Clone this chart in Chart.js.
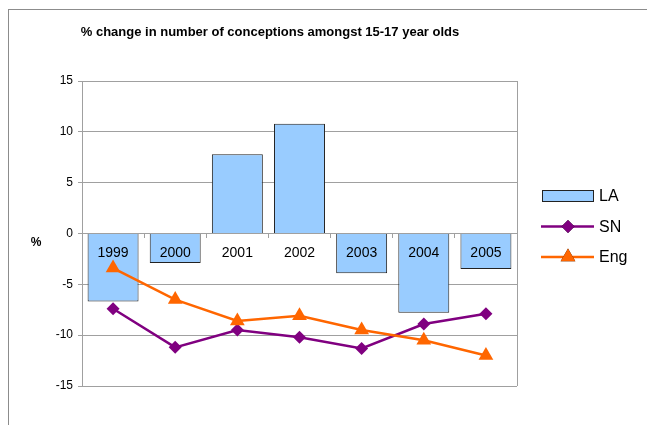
<!DOCTYPE html>
<html>
<head>
<meta charset="utf-8">
<script src="https://cdn.jsdelivr.net/npm/chart.js@4/dist/chart.umd.min.js"></script>
<style>
  html, body { margin: 0; padding: 0; background: #fff; overflow: hidden; }
  #frame { position: absolute; left: 8px; top: 9px; width: 700px; height: 500px; border: 1px solid #8c8c8c; }
  #wrap { position: absolute; left: 0; top: 0; width: 647px; height: 425px; }
</style>
</head>
<body>
<div id="frame"></div>
<div id="wrap"><canvas id="c" width="647" height="425"></canvas></div>
<script>
// chart data
var years = ['1999', '2000', '2001', '2002', '2003', '2004', '2005'];
var laValues = [-6.7, -2.9, 7.8, 10.8, -3.9, -7.8, -3.5];
var snValues = [-7.4, -11.2, -9.5, -10.2, -11.3, -8.9, -7.9];
var engValues = [-3.4, -6.5, -8.6, -8.1, -9.5, -10.5, -12.0];
var yTicks = [-15, -10, -5, 0, 5, 10, 15];

var FONT = "'Liberation Sans', Arial, sans-serif";

// category labels sit on the zero line, on top of the bars
var catLabelPlugin = {
    id: 'catLabels',
    afterDatasetsDraw: function (chart) {
        var ctx = chart.ctx;
        var xs = chart.scales.x, ys = chart.scales.y;
        var y0 = ys.getPixelForValue(0);
        ctx.save();
        ctx.fillStyle = '#000';
        ctx.font = '14px ' + FONT;
        ctx.textAlign = 'center';
        ctx.textBaseline = 'middle';
        chart.data.labels.forEach(function (lab, i) {
            ctx.fillText(lab, xs.getPixelForValue(i), y0 + 20);
        });
        ctx.restore();
    }
};

// title, axis label, plot frame and legend drawn by hand
var decorPlugin = {
    id: 'decor',
    afterDraw: function (chart) {
        var ctx = chart.ctx;
        var area = chart.chartArea;
        ctx.save();

        // right edge of plot
        ctx.strokeStyle = '#a0a0a0';
        ctx.lineWidth = 1;
        ctx.beginPath();
        ctx.moveTo(Math.round(area.right) + 0.5, area.top);
        ctx.lineTo(Math.round(area.right) + 0.5, area.bottom);
        ctx.stroke();

        ctx.fillStyle = '#000';
        ctx.textBaseline = 'middle';
        ctx.textAlign = 'center';
        ctx.font = 'bold 13px ' + FONT;
        ctx.fillText('% change in number of conceptions amongst 15-17 year olds', 270, 32);

        ctx.font = 'bold 12px ' + FONT;
        ctx.fillText('%', 36, 243);

        // legend
        var lx = 542, lw = 52, ly = 196, gap = 30.5;
        ctx.textAlign = 'left';
        ctx.font = '16px ' + FONT;
        chart.data.datasets.forEach(function (ds, i) {
            var y = ly + i * gap;
            if (ds.type === 'bar') {
                ctx.fillStyle = ds.backgroundColor;
                ctx.fillRect(lx, y - 6, lw, 12);
                ctx.strokeStyle = ds.borderColor;
                ctx.lineWidth = 1;
                ctx.strokeRect(lx + 0.5, y - 5.5, lw - 1, 11);
            } else {
                ctx.strokeStyle = ds.borderColor;
                ctx.lineWidth = ds.borderWidth;
                ctx.beginPath();
                ctx.moveTo(lx - 1, y);
                ctx.lineTo(lx + lw, y);
                ctx.stroke();
                Chart.helpers.drawPoint(ctx, {
                    pointStyle: ds.pointStyle,
                    radius: ds.pointRadius,
                    rotation: 0,
                    borderWidth: 0
                }, lx + lw / 2, y);
                ctx.fillStyle = ds.pointBackgroundColor;
                ctx.fill();
            }
            ctx.fillStyle = '#000';
            ctx.fillText(ds.label, lx + lw + 5, y + 1);
        });
        ctx.restore();
    }
};

new Chart(document.getElementById('c'), {
    type: 'bar',
    data: {
        labels: years,
        datasets: [
            {
                type: 'bar',
                label: 'LA',
                data: laValues,
                backgroundColor: '#99ccff',
                borderColor: '#222222',
                borderWidth: 1,
                categoryPercentage: 1,
                barPercentage: 0.82,
                order: 3
            },
            {
                type: 'line',
                label: 'SN',
                data: snValues,
                borderColor: '#800080',
                backgroundColor: '#800080',
                pointBackgroundColor: '#800080',
                pointBorderColor: '#800080',
                borderWidth: 2.5,
                pointStyle: 'rectRot',
                pointRadius: 6.5,
                pointBorderWidth: 0,
                tension: 0,
                order: 2
            },
            {
                type: 'line',
                label: 'Eng',
                data: engValues,
                borderColor: '#ff6600',
                backgroundColor: '#ff6600',
                pointBackgroundColor: '#ff6600',
                pointBorderColor: '#ff6600',
                borderWidth: 2.5,
                pointStyle: 'triangle',
                pointRadius: 8.5,
                pointBorderWidth: 0,
                tension: 0,
                order: 1
            }
        ]
    },
    options: {
        responsive: false,
        animation: false,
        layout: { padding: { top: 81, bottom: 39, left: 0, right: 130 } },
        plugins: {
            legend: { display: false },
            title: { display: false },
            tooltip: { enabled: false }
        },
        scales: {
            x: {
                position: { y: 0 },
                offset: true,
                grid: { display: true, drawOnChartArea: false, drawTicks: true, tickLength: 4, color: '#a0a0a0', offset: true },
                border: { display: false },
                ticks: { display: false }
            },
            y: {
                min: yTicks[0],
                max: yTicks[yTicks.length - 1],
                afterBuildTicks: function (scale) {
                    scale.ticks = yTicks.map(function (v) { return { value: v }; });
                },
                afterFit: function (scale) { scale.width = 82; },
                grid: { color: '#a0a0a0', tickLength: 4, drawTicks: true },
                border: { color: '#a0a0a0' },
                ticks: { color: '#000', padding: 5, font: { size: 12, family: FONT } }
            }
        }
    },
    plugins: [catLabelPlugin, decorPlugin]
});
</script>
</body>
</html>
